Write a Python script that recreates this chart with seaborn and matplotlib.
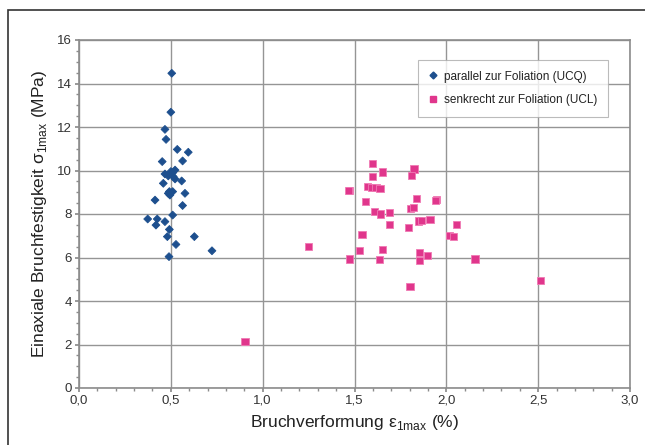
import matplotlib
matplotlib.use("Agg")
import matplotlib.pyplot as plt
import seaborn as sns
import pandas as pd
from matplotlib.ticker import MultipleLocator, FuncFormatter
from matplotlib.patches import Rectangle
from matplotlib.lines import Line2D

# parallel zur Foliation (UCQ)
ucq_x = [0.505, 0.50, 0.468, 0.474, 0.535, 0.595, 0.453, 0.564, 0.523, 0.51,
         0.468, 0.486, 0.513, 0.523, 0.559, 0.459, 0.492, 0.51, 0.486, 0.495,
         0.577, 0.414, 0.564, 0.51, 0.374, 0.426, 0.468, 0.419, 0.492, 0.481,
         0.628, 0.528, 0.724, 0.49, 0.50]
ucq_y = [14.47, 12.68, 11.89, 11.43, 10.97, 10.84, 10.41, 10.44, 10.02, 9.90,
         9.84, 9.75, 9.72, 9.61, 9.52, 9.41, 9.03, 9.03, 8.95, 8.87,
         8.95, 8.64, 8.39, 7.95, 7.77, 7.77, 7.65, 7.49, 7.29, 6.96,
         6.96, 6.60, 6.31, 6.04, 9.95]

# senkrecht zur Foliation (UCL)
ucl_x = [1.599, 1.824, 1.651, 1.811, 1.597, 1.475, 1.466, 1.57, 1.593, 1.617,
         1.639, 1.559, 1.836, 1.947, 1.94, 1.806, 1.82, 1.61, 1.642, 1.693,
         1.847, 1.867, 1.911, 2.056, 1.689, 1.793, 1.541, 2.016, 2.038, 1.252,
         1.526, 1.651, 1.856, 1.898, 1.471, 1.635, 1.853, 2.156, 1.802, 2.513,
         0.904]
ucl_y = [10.33, 10.07, 9.93, 9.76, 9.72, 9.06, 9.10, 9.26, 9.23, 9.23,
         9.18, 8.57, 8.72, 8.67, 8.60, 8.26, 8.29, 8.12, 8.00, 8.06,
         7.68, 7.69, 7.76, 7.51, 7.51, 7.39, 7.05, 7.03, 6.96, 6.50,
         6.34, 6.36, 6.22, 6.11, 5.93, 5.92, 5.87, 5.93, 4.66, 4.93,
         2.13]

lab_q = "parallel zur Foliation (UCQ)"
lab_l = "senkrecht zur Foliation (UCL)"

df = pd.DataFrame({
    "x": ucq_x + ucl_x,
    "y": ucq_y + ucl_y,
    "serie": [lab_q] * len(ucq_x) + [lab_l] * len(ucl_x),
})

sns.set_theme(style="white")
plt.rcParams["font.family"] = ["Liberation Sans", "DejaVu Sans"]

fig = plt.figure(figsize=(6.45, 4.45), dpi=100)
ax = fig.add_axes([79/645, 1-388/445, (630-79)/645, (388-40)/445])

blue = "#1d4f8e"
pink = "#e0368c"

sns.scatterplot(data=df, x="x", y="y", hue="serie", style="serie", size="serie",
                palette={lab_q: blue, lab_l: pink},
                markers={lab_q: "D", lab_l: "s"},
                sizes={lab_q: 16, lab_l: 26},
                ax=ax, legend=False, linewidth=0.6, zorder=3)
coll = ax.collections[0]
cols = [blue] * len(ucq_x) + ["#f07ab4"] * len(ucl_x)
coll.set_edgecolors(cols)

ax.set_xlim(0, 3.0)
ax.set_ylim(0, 16)
ax.xaxis.set_major_locator(MultipleLocator(0.5))
ax.xaxis.set_minor_locator(MultipleLocator(0.1))
ax.yaxis.set_major_locator(MultipleLocator(2))
ax.yaxis.set_minor_locator(MultipleLocator(0.5))
ax.xaxis.set_major_formatter(FuncFormatter(lambda v, p: f"{v:.1f}".replace(".", ",")))
ax.grid(True, which="major", color="#959595", linewidth=1.0)
ax.set_axisbelow(True)
for s in ax.spines.values():
    s.set_color("#8c8c8c")
    s.set_linewidth(1.2)
ax.tick_params(which="major", direction="out", length=3, color="#8c8c8c",
               labelsize=9.5, labelcolor="#333333", pad=2)
ax.tick_params(which="minor", direction="out", length=2, color="#8c8c8c")
ax.tick_params(axis="x", which="both", bottom=True)
ax.tick_params(axis="y", which="both", left=True)

ax.set_xlabel("Bruchverformung ε$_{\\mathregular{1max}}$ (%)", fontsize=12.5, labelpad=4,
              color="#222222")
ax.set_ylabel("Einaxiale Bruchfestigkeit σ$_{\\mathregular{1max}}$ (MPa)", fontsize=12.5,
              labelpad=6, color="#222222")

handles = [Line2D([], [], marker="D", color=blue, linestyle="", markersize=3.5),
           Line2D([], [], marker="s", color=pink, linestyle="", markersize=5)]
leg = ax.legend(handles, [lab_q, lab_l], loc="upper left",
                bbox_to_anchor=((418-79)/551, 1-(60-40)/348),
                fontsize=8.5, frameon=True, fancybox=False, handlelength=0.8,
                handletextpad=0.5, borderpad=0.9, labelspacing=1.0,
                borderaxespad=0)
leg.get_frame().set_edgecolor("#aaaaaa")
leg.get_frame().set_linewidth(0.8)
for t in leg.get_texts():
    t.set_color("#222222")

# outer chart frame
fig.patches.append(Rectangle((8/645, -0.05), 1.2, 1 - 10/445 + 0.05,
                             transform=fig.transFigure, fill=False,
                             edgecolor="#333333", linewidth=1.2))

fig.savefig("out.png", dpi=100)
